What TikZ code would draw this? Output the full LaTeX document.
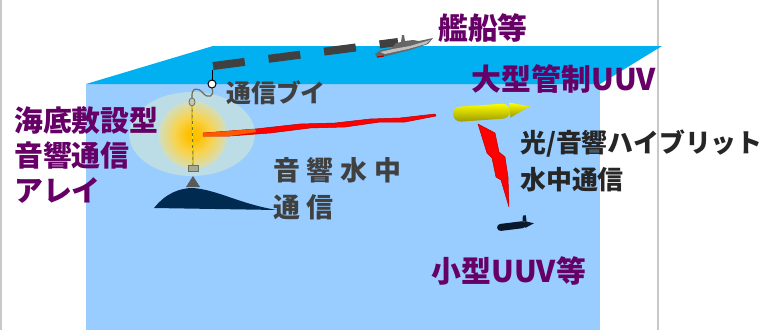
\documentclass[tikz,border=0pt]{standalone}
\usepackage{fontspec}
\setmainfont{Noto Sans CJK JP}
\usepackage{tikz}
\usetikzlibrary{positioning}
\definecolor{surface1}{RGB}{0,176,240}
\definecolor{water1}{RGB}{153,204,255}
\definecolor{halo1}{RGB}{188,220,230}
\definecolor{purple1}{RGB}{102,0,102}
\definecolor{gray1}{RGB}{64,64,64}
\definecolor{gray2}{RGB}{38,38,38}
\definecolor{frame1}{RGB}{200,200,200}
\definecolor{seabed1}{RGB}{0,42,80}
\definecolor{olive1}{RGB}{110,110,80}
\definecolor{sub1}{RGB}{10,24,44}
\definecolor{glow1}{RGB}{255,192,0}
\definecolor{glow2}{RGB}{240,228,150}
\pgfdeclareradialshading{glow}{\pgfpoint{0bp}{0bp}}{color(0bp)=(glow1); color(4bp)=(glow1); color(14bp)=(glow1!45!glow2); color(26bp)=(glow2!35!halo1); color(40bp)=(halo1); color(50bp)=(halo1)}

\begin{document}
\begin{tikzpicture}[x=1bp, y=-1bp,
    purplelabel/.style={text=purple1, font=\bfseries\fontsize{30}{35}\selectfont, inner sep=0pt},
    graylabel/.style={text=gray1, font=\bfseries\fontsize{27}{37}\selectfont, inner sep=0pt, align=left},
    bolt/.style={fill=red, draw=red!75!black, line width=0.5bp, line join=round},
    cable/.style={draw=olive1, line width=1bp}
]
    \useasboundingbox (0,0) rectangle (761,330);
    \fill[white] (0,0) rectangle (761,330);
    \draw[frame1, line width=1.5bp] (1,0) -- (1,330);
    \draw[frame1, line width=1.5bp] (658,0) -- (658,330);

    % sea
    \fill[water1] (86,84) rectangle (600,330);
    \fill[surface1] (86,84) -- (213,46) -- (662,46) -- (600,84) -- cycle;

    % array: halo and glow
    \fill[halo1] (192,134) ellipse (63 and 42);
    \shade[shading=glow] (193,135) circle (34);

    % seabed mound
    \fill[seabed1] (154,208) .. controls (166,193) and (180,188) .. (193,188)
        .. controls (218,190) and (240,204) .. (277,210) -- cycle;

    % mooring line, float, anchor
    \draw[olive1, line width=1bp] (192,106) -- (193,165);
    \draw[yellow!80!orange, line width=1bp, dash pattern=on 3bp off 3bp] (192,106) -- (193,165);
    \node[draw=olive1, fill=olive1!60!white, minimum width=10bp, minimum height=6bp, inner sep=0pt, name=weight] at(193,168) {};
    \fill[gray!70!black] (193,176) -- (200,187) -- (186,187) -- cycle;
    \draw[cable, line width=1.2bp] (212,88) .. controls (215,97) and (208,99) .. (203,93)
        .. controls (198,87) and (191,87) .. (192,98);
    \draw[olive1, fill=olive1!40!white, line width=0.8bp] (192,102) ellipse (3 and 4);

    % buoy and link to ship
    \draw[gray1, line width=8bp, dash pattern=on 32bp off 24bp] (213,66) -- (398,42);
    \draw[black, line width=1bp] (212,70) -- (212,80);
    \draw[black, fill=white, line width=1bp] (212,84) circle (4);

    % ship
    \fill[gray!80!black] (375,54) -- (381,50) -- (392,48) -- (396,43) -- (401,42) -- (402,35)
        -- (404,35) -- (405,41) -- (413,40) -- (419,41) -- (433,38) -- (428,44)
        -- (410,50) -- (386,56) -- (377,57) -- cycle;
    \fill[gray!50!white] (380,52) -- (393,49) -- (410,46) -- (430,40) -- (426,44) -- (408,49) -- (385,54) -- cycle;
    \draw[red!70!black, line width=1.2bp] (377,57) -- (384,56);

    % acoustic link
    \path[bolt] (203,133) -- (255,129) -- (300,124) -- (335,123) -- (370,119) -- (400,118)
        -- (435,114) -- (436,116) -- (405,122) -- (380,122) -- (345,127) -- (310,128)
        -- (270,133) -- (230,136) -- (203,136) -- cycle;
    \fill[orange, opacity=0.7] (203,133) -- (255,129) -- (256,132) -- (230,136) -- (203,136) -- cycle;

    % large UUV
    \begin{scope}[shift={(491,112)}, rotate=4]
        \shade[top color=yellow, bottom color=yellow!60!black, rounded corners=7.5bp]
            (19,-7.5) -- (-38,-7.5) -- (-38,7.5) -- (19,7.5) -- cycle;
        \shade[top color=yellow, bottom color=yellow!60!black] (19,-8) -- (39,-3) -- (19,7) -- cycle;
    \end{scope}

    % optical/acoustic link
    \path[bolt] (478,124) -- (495,133) -- (499,152) -- (505,157) -- (508,177) -- (509,207)
        -- (501,180) -- (496,177) -- (492,158) -- (487,153) -- cycle;

    % small UUV
    \begin{scope}[shift={(512,226)}, rotate=7]
        \fill[sub1, rounded corners=3.5bp] (14,-3.5) -- (-15,-3.5) -- (-15,3.5) -- (14,3.5) -- cycle;
        \fill[sub1] (13,-3.5) -- (22,0) -- (13,3.5) -- cycle;
        \fill[sub1] (11,-3) -- (12,-9) -- (15,-9) -- (15,-3) -- cycle;
    \end{scope}

    % labels
    \node[purplelabel, name=ship] at(483,28) {艦船等};
    \node[graylabel, font=\bfseries\fontsize{25}{30}\selectfont, name=buoy] at(276,93) {通信ブイ};
    \node[purplelabel, name=bigUUV] at(564,79) {大型管制UUV};
    \node[purplelabel, font=\bfseries\fontsize{29}{35}\selectfont, align=left, anchor=west, name=array] at(14,155) {海底敷設型\\音響通信\\アレイ};
    \node[graylabel, font=\bfseries\fontsize{27}{37}\selectfont\addfontfeature{LetterSpace=25}, anchor=west, name=acoustic] at(273,189) {音響水中\\通信};
    \node[graylabel, text=gray2, font=\bfseries\fontsize{26}{37}\selectfont, anchor=west, name=hybrid] at(520,161) {光/音響ハイブリット\\水中通信};
    \node[purplelabel, name=smallUUV] at(509,271) {小型UUV等};
\end{tikzpicture}
\end{document}
